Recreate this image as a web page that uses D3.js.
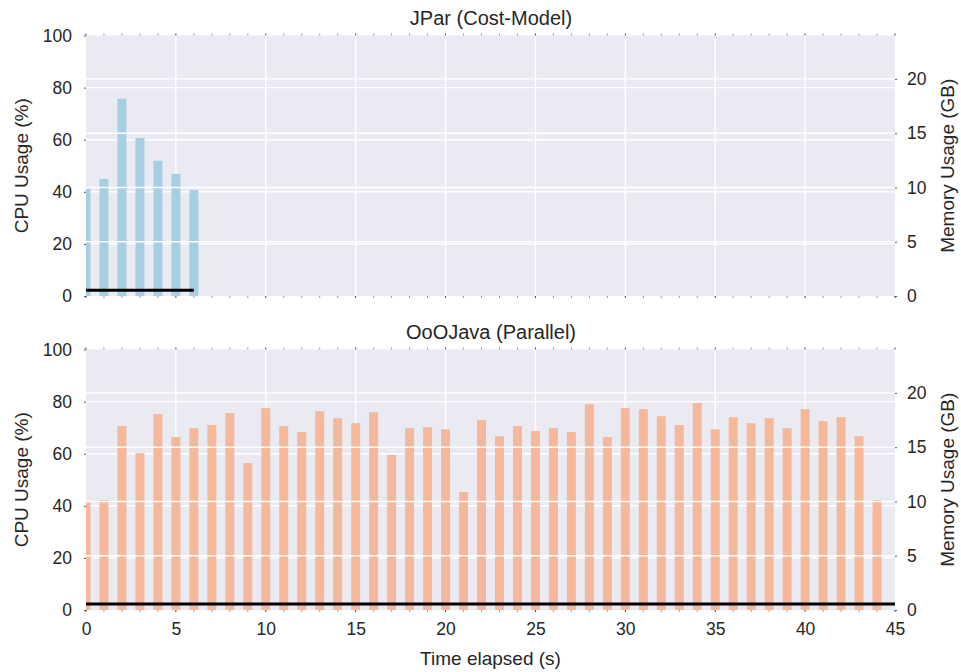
<!DOCTYPE html>
<html>
<head>
<meta charset="utf-8">
<script src="https://cdn.jsdelivr.net/npm/d3@7"></script>
<style>
  body { margin: 0; background: #fff; }
  text { font-family: Arial, "Liberation Sans", sans-serif; fill: #262626; }
</style>
</head>
<body>
<div id="chart"></div>
<script>
// cpu usage per second, one bar per sample
var jparCpu = [41.1, 44.9, 75.7, 60.7, 51.9, 46.9, 40.7];
var oojCpu = [41.4, 42.2, 70.6, 60.2, 75.2, 66.4, 69.8, 71.0, 75.6, 56.4,
  77.5, 70.6, 68.3, 76.3, 73.6, 71.7, 75.9, 59.5, 69.8, 70.2,
  69.4, 45.3, 72.9, 66.7, 70.6, 68.7, 69.8, 68.3, 79.0, 66.4,
  77.5, 77.1, 74.4, 71.0, 79.4, 69.4, 74.0, 71.7, 73.6, 69.8,
  77.1, 72.5, 74.0, 66.7, 42.2];
// memory usage (GB)
var jparMem = [0.53, 0.53, 0.53, 0.53, 0.53, 0.53, 0.53];
var oojMem = [0.55, 0.55, 0.55, 0.55, 0.55, 0.55, 0.55, 0.55, 0.55, 0.55,
  0.55, 0.55, 0.55, 0.55, 0.55, 0.55, 0.55, 0.55, 0.55, 0.55,
  0.55, 0.55, 0.55, 0.55, 0.55, 0.55, 0.55, 0.55, 0.55, 0.55,
  0.55, 0.55, 0.55, 0.55, 0.55, 0.55, 0.55, 0.55, 0.55, 0.55,
  0.55, 0.55, 0.55, 0.55, 0.55, 0.55];
var cpuTicks = [0, 20, 40, 60, 80, 100];
var memTicks = [0, 5, 10, 15, 20];
var timeTicks = [0, 5, 10, 15, 20, 25, 30, 35, 40, 45];
var titles = ['JPar (Cost-Model)', 'OoOJava (Parallel)'];

var width = 961;
var height = 672;
var left = 86, right = 895;
var panelH = 260.5;
var panelTops = [35.5, 349.5];

var svg = d3.select('#chart')
  .append('svg')
  .attr('width', width)
  .attr('height', height);

var x = d3.scaleLinear().domain([0, 45]).range([left, right]);
var barW = x(0.5) - x(0);

svg.append('defs').selectAll('clipPath')
  .data(panelTops)
  .enter()
  .append('clipPath')
  .attr('id', function(d, i) { return 'clip' + i; })
  .append('rect')
  .attr('x', left)
  .attr('y', function(d) { return d; })
  .attr('width', right - left)
  .attr('height', panelH);

function drawPanel(i, cpu, mem, color) {
  var top = panelTops[i];
  var y = d3.scaleLinear().domain([0, 100]).range([top + panelH, top]);
  var y2 = d3.scaleLinear().domain([0, 24]).range([top + panelH, top]);
  var g = svg.append('g');

  //background
  g.append('rect')
    .attr('x', left)
    .attr('y', top)
    .attr('width', right - left)
    .attr('height', panelH)
    .attr('fill', '#eaeaf2');

  //grid behind the bars
  g.selectAll('.vgrid')
    .data(timeTicks.slice(1, -1))
    .enter()
    .append('line')
    .attr('x1', function(d) { return x(d); })
    .attr('x2', function(d) { return x(d); })
    .attr('y1', top)
    .attr('y2', top + panelH)
    .attr('stroke', '#fff')
    .attr('stroke-width', 1.4);

  g.selectAll('.hgrid')
    .data(cpuTicks.slice(1, -1))
    .enter()
    .append('line')
    .attr('x1', left)
    .attr('x2', right)
    .attr('y1', function(d) { return y(d); })
    .attr('y2', function(d) { return y(d); })
    .attr('stroke', '#fff')
    .attr('stroke-width', 1.4);

  //bars
  g.append('g')
    .attr('clip-path', 'url(#clip' + i + ')')
    .selectAll('rect')
    .data(cpu)
    .enter()
    .append('rect')
    .attr('x', function(d, k) { return x(k) - barW / 2; })
    .attr('y', function(d) { return y(d); })
    .attr('width', barW)
    .attr('height', function(d) { return y(0) - y(d); })
    .attr('fill', color);

  //grid of the memory axis, drawn over the bars
  g.selectAll('.mgrid')
    .data(memTicks.slice(1))
    .enter()
    .append('line')
    .attr('x1', left)
    .attr('x2', right)
    .attr('y1', function(d) { return y2(d); })
    .attr('y2', function(d) { return y2(d); })
    .attr('stroke', '#fff')
    .attr('stroke-width', 1.4);

  //memory line
  var line = d3.line()
    .x(function(d, k) { return x(k); })
    .y(function(d) { return y2(d); });
  g.append('path')
    .datum(mem)
    .attr('d', line)
    .attr('fill', 'none')
    .attr('stroke', '#000')
    .attr('stroke-width', 3);

  //tiny ticks on top and bottom edges
  var minor = d3.range(0, 46);
  [top, top + panelH].forEach(function(yy, j) {
    g.selectAll('.mt' + j)
      .data(minor)
      .enter()
      .append('line')
      .attr('x1', function(d) { return x(d); })
      .attr('x2', function(d) { return x(d); })
      .attr('y1', j ? yy : yy - 2)
      .attr('y2', j ? yy + 2 : yy)
      .attr('stroke', function(d) { return d % 5 === 0 ? '#444' : '#999'; })
      .attr('stroke-width', 1);
  });

  //left axis
  var ax = g.append('g')
    .attr('transform', 'translate(' + left + ',0)')
    .call(d3.axisLeft(y).tickValues(cpuTicks).tickSize(2).tickPadding(12));
  ax.select('.domain').remove();
  ax.selectAll('line').attr('stroke', '#555');
  ax.selectAll('text').style('font-size', '17.5px').attr('fill', '#262626');

  //right axis
  var ax2 = g.append('g')
    .attr('transform', 'translate(' + right + ',0)')
    .call(d3.axisRight(y2).tickValues(memTicks).tickSize(2).tickPadding(10));
  ax2.select('.domain').remove();
  ax2.selectAll('line').attr('stroke', '#555');
  ax2.selectAll('text').style('font-size', '17.5px').attr('fill', '#262626');

  //labels
  g.append('text')
    .attr('transform', 'translate(27.5,' + (top + panelH / 2) + ') rotate(-90)')
    .attr('text-anchor', 'middle')
    .style('font-size', '19px')
    .text('CPU Usage (%)');

  g.append('text')
    .attr('transform', 'translate(954,' + (top + panelH / 2) + ') rotate(-90)')
    .attr('text-anchor', 'middle')
    .style('font-size', '19px')
    .text('Memory Usage (GB)');

  g.append('text')
    .attr('x', (left + right) / 2 + 0.5)
    .attr('y', top - 10.5)
    .attr('text-anchor', 'middle')
    .style('font-size', '20px')
    .text(titles[i]);

  return g;
}

drawPanel(0, jparCpu, jparMem, '#a6cfe3');
drawPanel(1, oojCpu, oojMem, '#f6b89a');

//time axis under the bottom panel
var xa = svg.append('g')
  .attr('transform', 'translate(0,' + (panelTops[1] + panelH) + ')')
  .call(d3.axisBottom(x).tickValues(timeTicks).tickSize(0).tickPadding(13));
xa.select('.domain').remove();
xa.selectAll('text').style('font-size', '17.5px').attr('fill', '#262626');

svg.append('text')
  .attr('x', (left + right) / 2)
  .attr('y', 665)
  .attr('text-anchor', 'middle')
  .style('font-size', '19px')
  .text('Time elapsed (s)');
</script>
</body>
</html>
